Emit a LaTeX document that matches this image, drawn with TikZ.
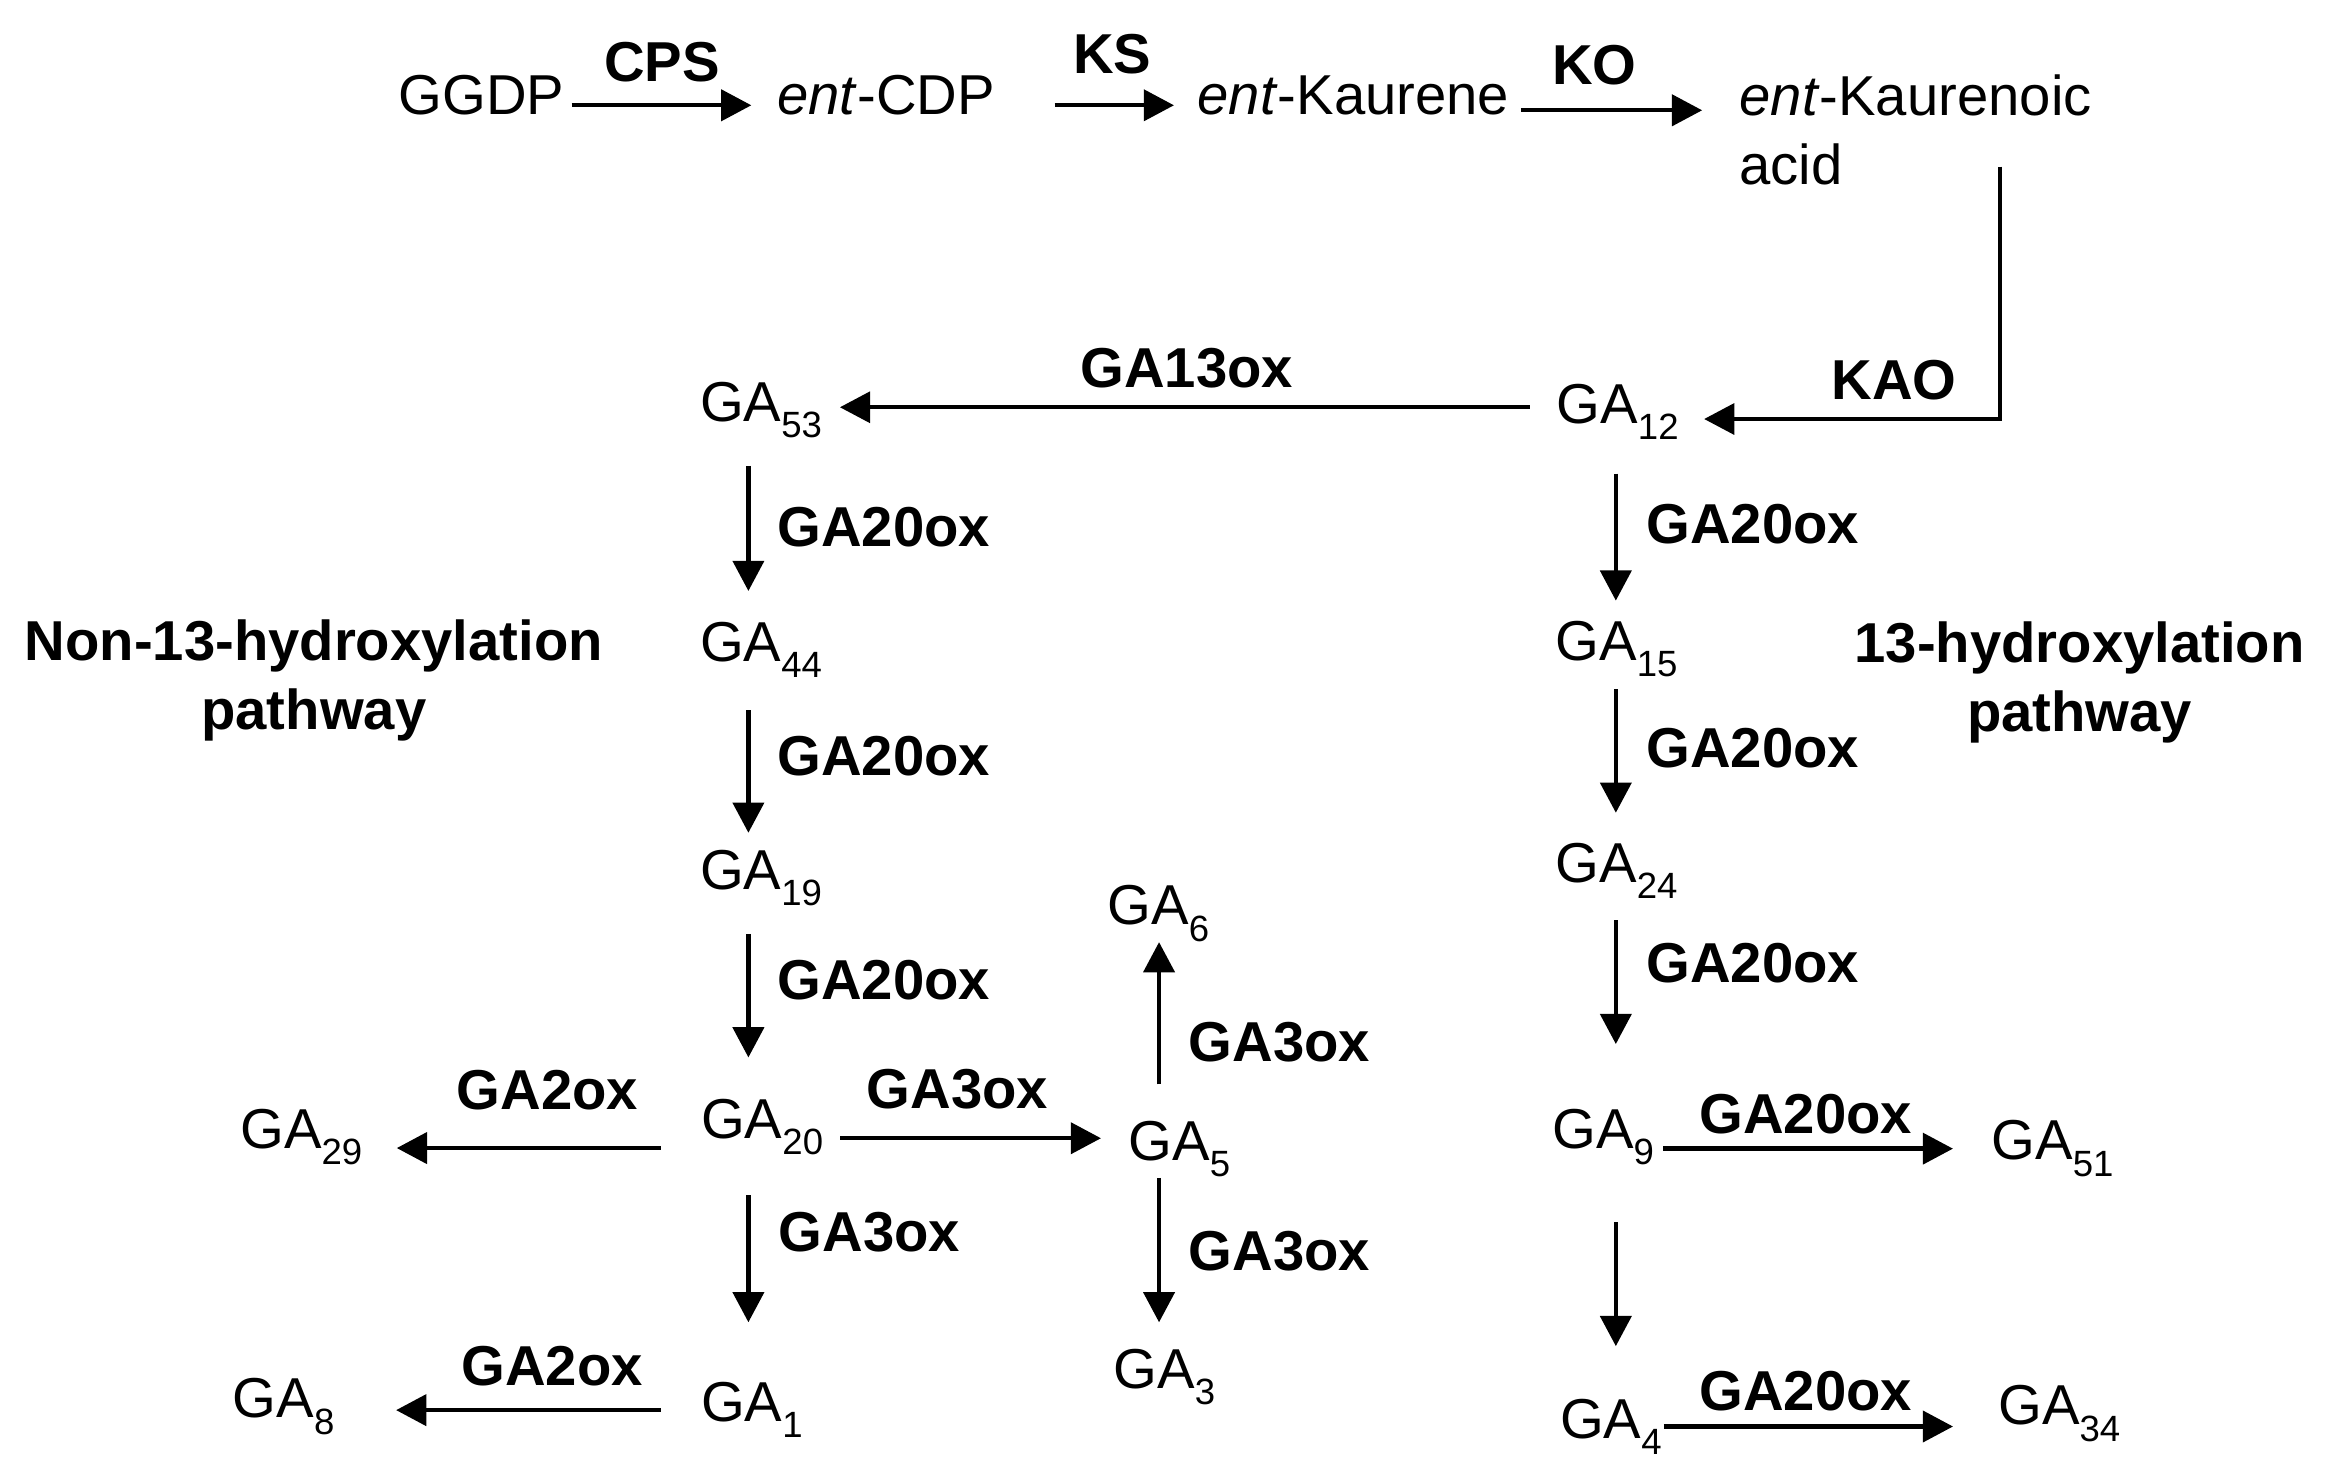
\documentclass[tikz,border=0pt]{standalone}
\usepackage{fontspec}
\setmainfont{Liberation Sans}
\usetikzlibrary{arrows.meta, positioning, calc}
\newcommand{\ga}[1]{GA\raisebox{-4.6pt}{\fontsize{10.4pt}{12pt}\selectfont #1}}

\begin{document}
\begin{tikzpicture}[x=0.01488cm, y=-0.01488cm,
    cpd/.style={font=\fontsize{16pt}{19.5pt}\selectfont, inner sep=0pt, anchor=base west},
    enz/.style={font=\fontsize{16pt}{19.5pt}\selectfont\bfseries, inner sep=0pt},
    rxn/.style={line width=1.25pt, -{Triangle[length=8.6pt,width=8.8pt]}},
    gap/.style 2 args={shorten <=#1, shorten >=#2}]
  \useasboundingbox (0,0) rectangle (1568,997);
  % columns of the vertical arrows
  \coordinate (colL) at (503,0);
  \coordinate (colM) at (779,0);
  \coordinate (colR) at (1086,0);
  \coordinate (kaotop) at (1344,112);

  % top row
  \node[cpd] (ggdp) at (267.5,77) {GGDP};
  \node[cpd] (cdp) at (522,77) {\textit{ent}-CDP};
  \node[cpd] (kaur) at (804.5,77) {\textit{ent}-Kaurene};
  \node[cpd, anchor=north west, align=left] (kacid) at (1168.7,49.8) {\textit{ent}-Kaurenoic\\acid};

  % non-13-hydroxylation side
  \node[cpd] (ga53) at (470,283) {\ga{53}};
  \node[cpd] (ga44) at (470,444.5) {\ga{44}};
  \node[cpd] (ga19) at (470,598) {\ga{19}};
  \node[cpd] (ga20) at (470.8,765) {\ga{20}};
  \node[cpd] (ga1) at (470.8,955.5) {\ga{1}};
  \node[cpd] (ga29) at (161,771.6) {\ga{29}};
  \node[cpd] (ga8) at (156,953) {\ga{8}};
  \node[cpd] (ga6) at (744,621.6) {\ga{6}};
  \node[cpd] (ga5) at (758,780) {\ga{5}};
  \node[cpd] (ga3) at (748,933) {\ga{3}};

  % 13-hydroxylation side
  \node[cpd] (ga12) at (1045.8,284.5) {\ga{12}};
  \node[cpd] (ga15) at (1045,444) {\ga{15}};
  \node[cpd] (ga24) at (1045,593) {\ga{24}};
  \node[cpd] (ga9) at (1042.8,772) {\ga{9}};
  \node[cpd] (ga4) at (1048,966.5) {\ga{4}};
  \node[cpd] (ga51) at (1338,779.6) {\ga{51}};
  \node[cpd] (ga34) at (1342.6,957.7) {\ga{34}};

  \node[enz, align=center, anchor=north] (non13) at (210.9,416.3) {Non-13-hydroxylation\\pathway};
  \node[enz, align=center, anchor=north] (hyd13) at (1397.7,417.4) {13-hydroxylation\\pathway};

  % enzymes
  \node[enz] (cps) at (445,42) {CPS};
  \node[enz] (ks) at (747.5,36.5) {KS};
  \node[enz] (ko) at (1071.6,43.9) {KO};
  \node[enz] (kao) at (1273,255.5) {KAO};
  \node[enz] (ga13ox) at (797.7,247.2) {GA13ox};
  \node[enz] (ox20a) at (594,354) {GA20ox};
  \node[enz] (ox20b) at (594,508) {GA20ox};
  \node[enz] (ox20c) at (594,658.6) {GA20ox};
  \node[enz] (ox20d) at (1178,352) {GA20ox};
  \node[enz] (ox20e) at (1178,502.7) {GA20ox};
  \node[enz] (ox20f) at (1178,647.3) {GA20ox};
  \node[enz] (ox20g) at (1213.6,749) {GA20ox};
  \node[enz] (ox20h) at (1213.6,935) {GA20ox};
  \node[enz] (ox2a) at (368,733) {GA2ox};
  \node[enz] (ox2b) at (371,918.5) {GA2ox};
  \node[enz] (ox3a) at (643.5,732) {GA3ox};
  \node[enz] (ox3b) at (584.4,828.3) {GA3ox};
  \node[enz] (ox3c) at (860,700.2) {GA3ox};
  \node[enz] (ox3d) at (860,841.2) {GA3ox};

  % top arrows
  \draw[rxn, gap={0.67mm}{2.53mm}] (ggdp.mid east) -- (ggdp.mid east -| cdp.west);
  \draw[rxn, gap={5.9mm}{2.3mm}] (cdp.mid east) -- (cdp.mid east -| kaur.west);
  \draw[rxn, gap={1.1mm}{3.67mm}] ([yshift=-0.5mm]kaur.mid east) -- ([yshift=-0.5mm]kaur.mid east -| kacid.west);
  \draw[rxn, line width=1.1pt, shorten >=2.48mm] (kaotop) |- ([yshift=0.43mm]ga12.base east);
  \draw[rxn, line width=1.1pt, gap={2.65mm}{1.73mm}] ([yshift=0.45mm]ga12.west) -- ([yshift=0.45mm]ga12.west -| ga53.east);

  % vertical arrows
  \draw[rxn, gap={2.75mm}{3.04mm}] (ga53.south -| colL) -- (ga44.north -| colL);
  \draw[rxn, gap={3.2mm}{1.7mm}] (ga44.south -| colL) -- (ga19.north -| colL);
  \draw[rxn, gap={2.68mm}{4.08mm}] (ga19.south -| colL) -- (ga20.north -| colL);
  \draw[rxn, gap={4.0mm}{5.94mm}] (ga20.south -| colL) -- (ga1.north -| colL);
  \draw[rxn, gap={3.35mm}{2.0mm}] (ga12.south -| colR) -- (ga15.north -| colR);
  \draw[rxn, gap={1.13mm}{2.96mm}] (ga15.south -| colR) -- (ga24.north -| colR);
  \draw[rxn, gap={2.08mm}{6.46mm}] (ga24.south -| colR) -- (ga9.north -| colR);
  \draw[rxn, gap={5.65mm}{5.19mm}] (ga9.south -| colR) -- (ga4.north -| colR);
  \draw[rxn, gap={3.63mm}{0mm}] (ga5.north -| colM) -- (ga6.south -| colM);
  \draw[rxn, gap={0mm}{2.59mm}] (ga5.south -| colM) -- (ga3.north -| colM);

  % horizontal arrows
  \draw[rxn, gap={3.99mm}{3.39mm}] (ga20.west |- ga29.base) -- (ga29.base east);
  \draw[rxn, gap={1.64mm}{2.68mm}] (ga20.base east) -- (ga20.base east -| ga5.west);
  \draw[rxn, gap={3.99mm}{6.1mm}] (ga1.west) -- (ga1.west -| ga8.east);
  \draw[rxn, gap={0.88mm}{3.78mm}] (ga9.base east) -- (ga9.base east -| ga51.west);
  \draw[rxn, gap={0.15mm}{4.46mm}] (ga4.east) -- (ga4.east -| ga34.west);
\end{tikzpicture}
\end{document}
